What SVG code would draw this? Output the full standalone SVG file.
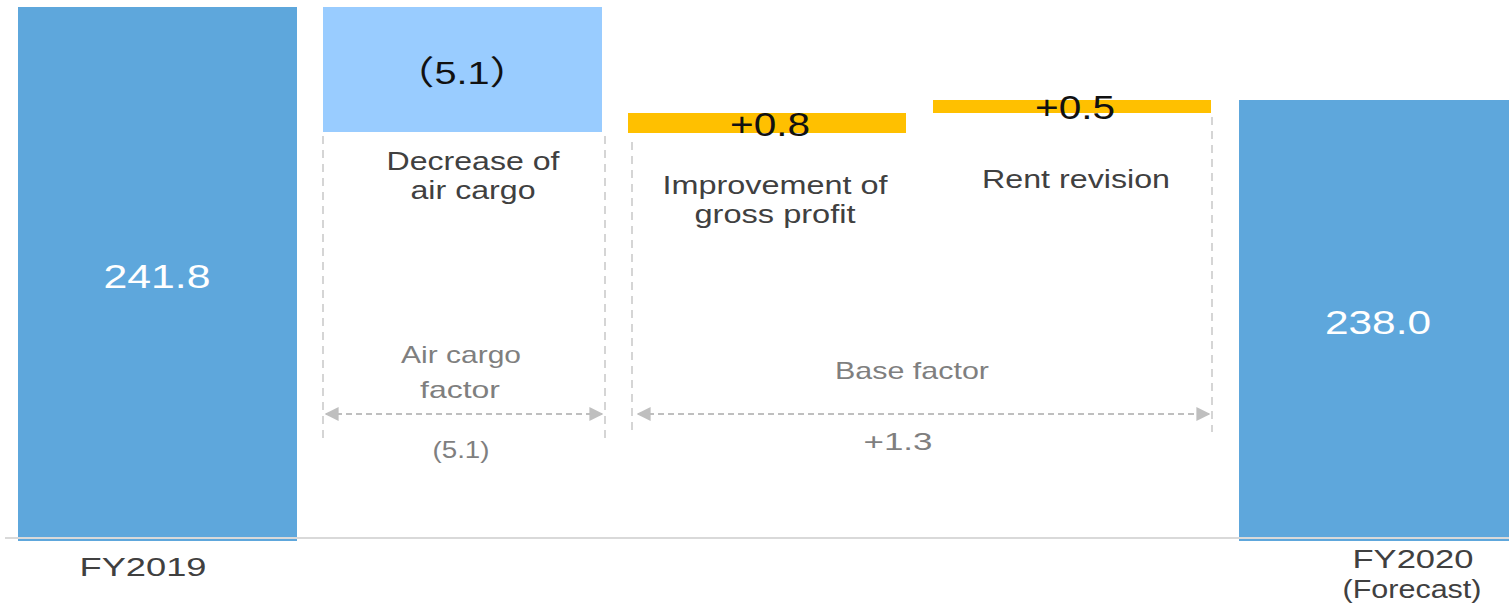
<svg xmlns="http://www.w3.org/2000/svg" width="1509" height="604" viewBox="0 0 1509 604">
  <style>
    text { font-family: "Liberation Sans", "Noto Sans CJK JP", sans-serif; text-anchor: middle; }
    .lbl { fill: #404040; font-size: 25px; }
    .fac { fill: #7f7f7f; font-size: 24px; }
    .val { fill: #111111; font-size: 33px; }
    .tot { fill: #ffffff; font-size: 34px; }
    .axis { fill: #404040; font-size: 26px; }
    .guide { stroke: #c8c8c8; stroke-width: 1.5; stroke-dasharray: 8 6; fill: none; }
    .span { stroke: #bfbfbf; stroke-width: 2; stroke-dasharray: 6 4; fill: none; }
  </style>
  <defs>
    <marker id="tri" viewBox="0 0 10 10" refX="9" refY="5" markerWidth="7" markerHeight="7" orient="auto-start-reverse" markerUnits="strokeWidth">
      <path d="M0,0 L10,5 L0,10 Z" fill="#bfbfbf"/>
    </marker>
  </defs>
  <rect width="1509" height="604" fill="#ffffff"/>

  <!-- starting total -->
  <g id="fy2019">
    <rect x="18" y="7" width="279" height="534" fill="#5ea7dc"/>
    <text class="tot" x="157" y="288" textLength="107" lengthAdjust="spacingAndGlyphs">241.8</text>
    <text class="axis" x="143" y="576" textLength="127" lengthAdjust="spacingAndGlyphs">FY2019</text>
  </g>

  <!-- air cargo decrease -->
  <g id="air-cargo">
    <rect x="323" y="7" width="279" height="125" fill="#99ccff"/>
    <text class="val" x="462" y="84" font-size="29" font-family="'Noto Sans CJK JP', sans-serif" transform="translate(462 0) scale(1.28 1) translate(-462 0)">（<tspan font-family="'Liberation Sans', sans-serif" font-size="31">5.1</tspan>）</text>
    <text class="lbl" x="473" y="170" textLength="173" lengthAdjust="spacingAndGlyphs">Decrease of</text>
    <text class="lbl" x="473" y="199" textLength="125" lengthAdjust="spacingAndGlyphs">air cargo</text>
  </g>

  <!-- gross profit improvement -->
  <g id="gross-profit">
    <rect x="628" y="113" width="278" height="20" fill="#ffc000"/>
    <text class="val" x="770" y="136" textLength="80" lengthAdjust="spacingAndGlyphs">+0.8</text>
    <text class="lbl" x="775" y="194" textLength="225" lengthAdjust="spacingAndGlyphs">Improvement of</text>
    <text class="lbl" x="775" y="223" textLength="161" lengthAdjust="spacingAndGlyphs">gross profit</text>
  </g>

  <!-- rent revision -->
  <g id="rent-revision">
    <rect x="933" y="100" width="278" height="13" fill="#ffc000"/>
    <text class="val" x="1075" y="119" textLength="80" lengthAdjust="spacingAndGlyphs">+0.5</text>
    <text class="lbl" x="1076" y="188" textLength="188" lengthAdjust="spacingAndGlyphs">Rent revision</text>
  </g>

  <!-- forecast total -->
  <g id="fy2020">
    <rect x="1239" y="100" width="270" height="441" fill="#5ea7dc"/>
    <text class="tot" x="1378" y="334" textLength="106" lengthAdjust="spacingAndGlyphs">238.0</text>
    <text class="axis" x="1413" y="568" textLength="121" lengthAdjust="spacingAndGlyphs">FY2020</text>
    <text class="axis" x="1412" y="598" font-size="24" textLength="139" lengthAdjust="spacingAndGlyphs">(Forecast)</text>
  </g>

  <!-- factor spans -->
  <g id="air-cargo-factor">
    <text class="fac" x="461" y="363" textLength="120" lengthAdjust="spacingAndGlyphs">Air cargo</text>
    <text class="fac" x="460" y="398" textLength="80" lengthAdjust="spacingAndGlyphs">factor</text>
    <text class="fac" x="461" y="458" font-size="22" textLength="57" lengthAdjust="spacingAndGlyphs">(5.1)</text>
  </g>
  <g id="base-factor">
    <text class="fac" x="912" y="379" textLength="154" lengthAdjust="spacingAndGlyphs">Base factor</text>
    <text class="fac" x="898" y="450" textLength="69" lengthAdjust="spacingAndGlyphs">+1.3</text>
  </g>

  <g id="connectors">
    <line class="guide" x1="323" y1="136" x2="323" y2="440"/>
    <line class="guide" x1="605" y1="136" x2="605" y2="440"/>
    <line class="guide" x1="632" y1="142" x2="632" y2="436"/>
    <line class="guide" x1="1212" y1="117" x2="1212" y2="432"/>
    <line class="span" x1="326" y1="414" x2="602" y2="414" marker-start="url(#tri)" marker-end="url(#tri)"/>
    <line class="span" x1="638" y1="414" x2="1209" y2="414" marker-start="url(#tri)" marker-end="url(#tri)"/>
  </g>

  <!-- baseline -->
  <line x1="5" y1="538" x2="1509" y2="538" stroke="#d9d9d9" stroke-width="2"/>
</svg>
